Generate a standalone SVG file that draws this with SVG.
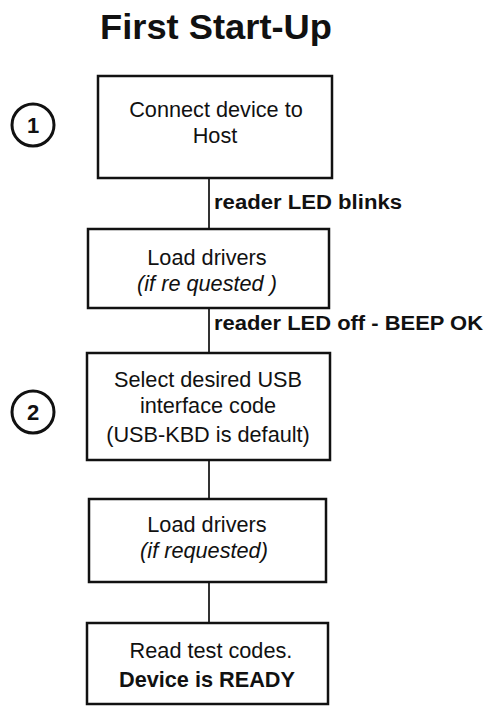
<svg xmlns="http://www.w3.org/2000/svg" width="490" height="712" viewBox="0 0 490 712">
<style>
.box{fill:#fff;stroke:#111;stroke-width:2.5}
.t{font-family:"Liberation Sans",Arial,sans-serif;font-size:21.7px;fill:#111;text-anchor:middle}
.i{font-style:italic}
.b{font-weight:bold}
.lbl{font-family:"Liberation Sans",Arial,sans-serif;font-size:20px;font-weight:bold;fill:#111}
.con{stroke:#333;stroke-width:2;fill:none}
.num{fill:#fff;stroke:#111;stroke-width:3}
.numt{font-family:"Liberation Sans",Arial,sans-serif;font-size:22px;font-weight:bold;fill:#111;text-anchor:middle}
</style>
<rect width="490" height="712" fill="#fff"/>
<text x="216" y="39" font-family="Liberation Sans,Arial,sans-serif" font-size="35" font-weight="bold" text-anchor="middle" fill="#111" textLength="232" lengthAdjust="spacingAndGlyphs">First Start-Up</text>
<g id="connectors">
<line class="con" x1="209" y1="178" x2="209" y2="229"/>
<line class="con" x1="209" y1="308" x2="209" y2="353"/>
<line class="con" x1="209" y1="460" x2="209" y2="499"/>
<line class="con" x1="209" y1="582" x2="209" y2="623"/>
<text class="lbl" x="214" y="209" textLength="188" lengthAdjust="spacingAndGlyphs">reader LED blinks</text>
<text class="lbl" x="214" y="330" textLength="269" lengthAdjust="spacingAndGlyphs">reader LED off - BEEP OK</text>
</g>
<g id="step1">
<circle class="num" cx="33" cy="125" r="21"/>
<text class="numt" x="33" y="133">1</text>
</g>
<g id="step2">
<circle class="num" cx="33" cy="412" r="21"/>
<text class="numt" x="33" y="420">2</text>
</g>
<g id="n1">
<rect class="box" x="98" y="76" width="234" height="102"/>
<text class="t" x="216" y="117">Connect device to</text>
<text class="t" x="215" y="143">Host</text>
</g>
<g id="n2">
<rect class="box" x="88" y="229" width="241" height="79"/>
<text class="t" x="207" y="265">Load drivers</text>
<text class="t i" x="207" y="291">(if re quested )</text>
</g>
<g id="n3">
<rect class="box" x="87" y="353" width="243" height="107"/>
<text class="t" x="208" y="387">Select desired USB</text>
<text class="t" x="208" y="413">interface code</text>
<text class="t" x="208" y="442">(USB-KBD is default)</text>
</g>
<g id="n4">
<rect class="box" x="89" y="499" width="237" height="83"/>
<text class="t" x="207" y="532">Load drivers</text>
<text class="t i" x="204" y="558">(if requested)</text>
</g>
<g id="n5">
<rect class="box" x="87" y="623" width="241" height="81"/>
<text class="t" x="211" y="658">Read test codes.</text>
<text class="t b" x="207" y="687">Device is READY</text>
</g>
</svg>
